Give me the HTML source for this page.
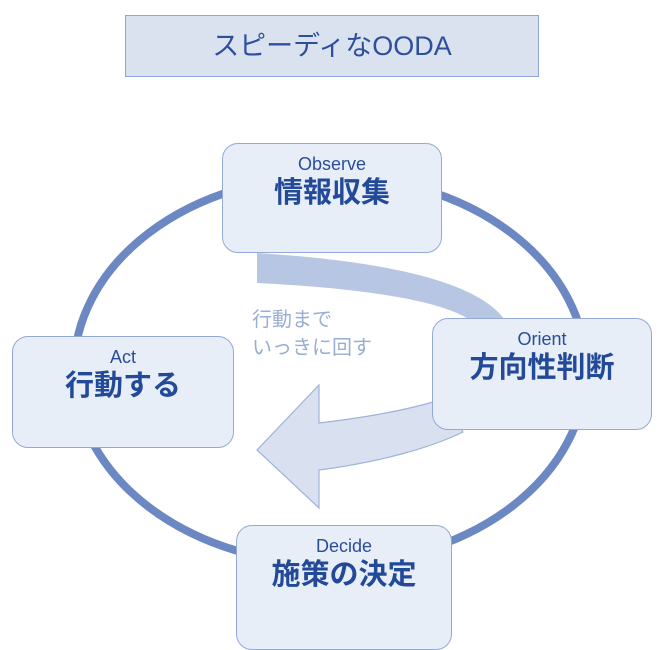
<!DOCTYPE html>
<html><head><meta charset="utf-8"><style>
body{margin:0;width:662px;height:640px;background:#fff;overflow:hidden;position:relative;font-family:"Liberation Sans","Noto Sans CJK JP",sans-serif}
.t{position:absolute;left:125px;top:15px;width:414px;height:62px;background:#dae2ef;border:1.5px solid #8ea7d8;box-sizing:border-box;text-align:center;line-height:60px;font-size:27px;color:#2d4f9c}
.b{position:absolute;background:#e8eef8;border:1.5px solid #94aad4;border-radius:16px;box-sizing:border-box;text-align:center;color:#2a4d9a}
.b .e{font-size:18px;margin-top:10px;line-height:20px}
.b .j{font-size:29px;font-weight:bold;color:#234a98;line-height:38px}
.n{position:absolute;left:252px;top:306px;font-size:20px;line-height:28px;color:#9aadd2}
</style></head><body>
<div class="t">スピーディなOODA</div>
<svg width="662" height="640" style="position:absolute;left:0;top:0">
<ellipse cx="330" cy="370" rx="256" ry="194" fill="none" stroke="#6c88c2" stroke-width="8"/>
<path d="M257 253 L257 283 C360 288 440 300 470 320 L505 320 C480 285 400 262 257 253 Z" fill="#b7c7e3"/>
<path d="M440 400 C400 412 360 418 319 423 L319 385 L257 450 L319 508 L319 470 C380 462 430 448 463 432 Z" fill="#d9e1f0" stroke="#9fb3d9" stroke-width="1.2"/>
</svg>
<div class="n">行動まで<br>いっきに回す</div>
<div class="b" style="left:222px;top:143px;width:220px;height:110px"><div class="e">Observe</div><div class="j">情報収集</div></div>
<div class="b" style="left:432px;top:318px;width:220px;height:112px"><div class="e">Orient</div><div class="j">方向性判断</div></div>
<div class="b" style="left:12px;top:336px;width:222px;height:112px"><div class="e">Act</div><div class="j">行動する</div></div>
<div class="b" style="left:236px;top:525px;width:216px;height:125px"><div class="e">Decide</div><div class="j">施策の決定</div></div>
</body></html>
